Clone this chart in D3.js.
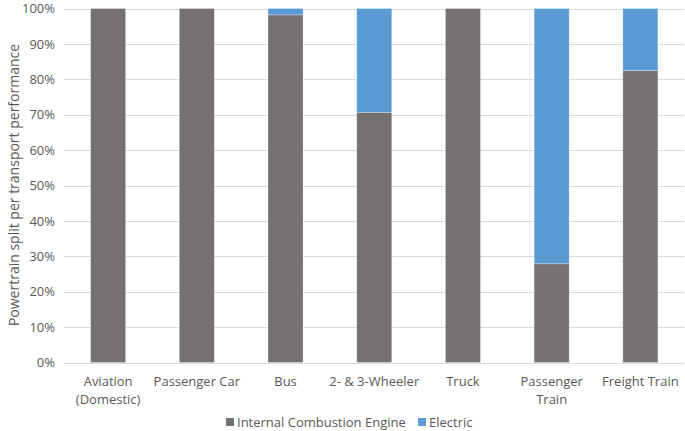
<!DOCTYPE html>
<html><head><meta charset="utf-8">
<script src="https://cdn.jsdelivr.net/npm/d3@7"></script>
<style>body{margin:0;background:#fff}text{font-family:"Open Sans",sans-serif}</style>
</head><body><svg id="c" width="685" height="431"></svg>
<script>
const categories = [["Aviation","(Domestic)"],["Passenger Car"],["Bus"],["2- & 3-Wheeler"],["Truck"],["Passenger","Train"],["Freight Train"]];
const iceValues = [100, 100, 98.2, 70.6, 100, 27.9, 82.5];
const electricValues = [0, 0, 1.8, 29.4, 0, 72.1, 17.5];
const seriesNames = ["Internal Combustion Engine", "Electric"];
const yTicks = [0,10,20,30,40,50,60,70,80,90,100];
const colors = ["#767171", "#5B9BD5"];

const svg = d3.select("#c");
const keys = categories.map(c => c.join(" "));
const x = d3.scaleBand().domain(keys).range([64, 684.5]).paddingInner(0.605).paddingOuter(0.3);
const y = d3.scaleLinear().domain([0,100]).range([362.5, 8.5]);

svg.append("g").selectAll("line").data(yTicks).join("line")
  .attr("x1", 64).attr("x2", 684.5)
  .attr("y1", d => Math.round(y(d))+0.5).attr("y2", d => Math.round(y(d))+0.5)
  .attr("stroke", "#d9d9d9").attr("stroke-width", 1);

const yAxis = d3.axisLeft(y).tickValues(yTicks).tickFormat(d => d + "%").tickSize(0).tickPadding(8);
const ga = svg.append("g").attr("transform", "translate(64,0)").call(yAxis);
ga.select(".domain").remove();
ga.selectAll("text").attr("fill", "#595959").style("font-size", "13px").attr("x", -9);

const data = keys.map((k,i) => ({k, ice: iceValues[i], el: electricValues[i]}));
const stack = d3.stack().keys(["ice","el"])(data);
svg.append("g").selectAll("g").data(stack).join("g").attr("fill", (d,i) => colors[i])
  .selectAll("rect").data(d => d).join("rect")
  .attr("x", d => x(d.data.k)).attr("width", x.bandwidth())
  .attr("y", d => y(d[1])).attr("height", d => y(d[0]) - y(d[1]))
  .attr("stroke", "rgba(255,255,255,0.35)").attr("stroke-width", 0.8);

const xl = svg.append("g");
categories.forEach((c,i) => {
  const t = xl.append("text").attr("x", x(keys[i]) + x.bandwidth()/2).attr("y", 386)
    .attr("text-anchor", "middle").attr("fill", "#595959").style("font-size", "13px");
  c.forEach((line, j) => t.append("tspan").attr("x", x(keys[i]) + x.bandwidth()/2).attr("dy", j ? 17.5 : 0).text(line));
});

svg.append("text").attr("transform", "translate(19,185) rotate(-90)").attr("text-anchor", "middle")
  .attr("fill", "#595959").style("font-size", "14px").text("Powertrain split per transport performance");

const legend = [{x: 226, name: seriesNames[0], c: colors[0]}, {x: 418, name: seriesNames[1], c: colors[1]}];
const lg = svg.append("g");
legend.forEach(l => {
  lg.append("rect").attr("x", l.x).attr("y", 418).attr("width", 8).attr("height", 8).attr("fill", l.c);
  lg.append("text").attr("x", l.x + 11).attr("y", 427).attr("fill", "#595959").style("font-size", "13px").text(l.name);
});
</script></body></html>
